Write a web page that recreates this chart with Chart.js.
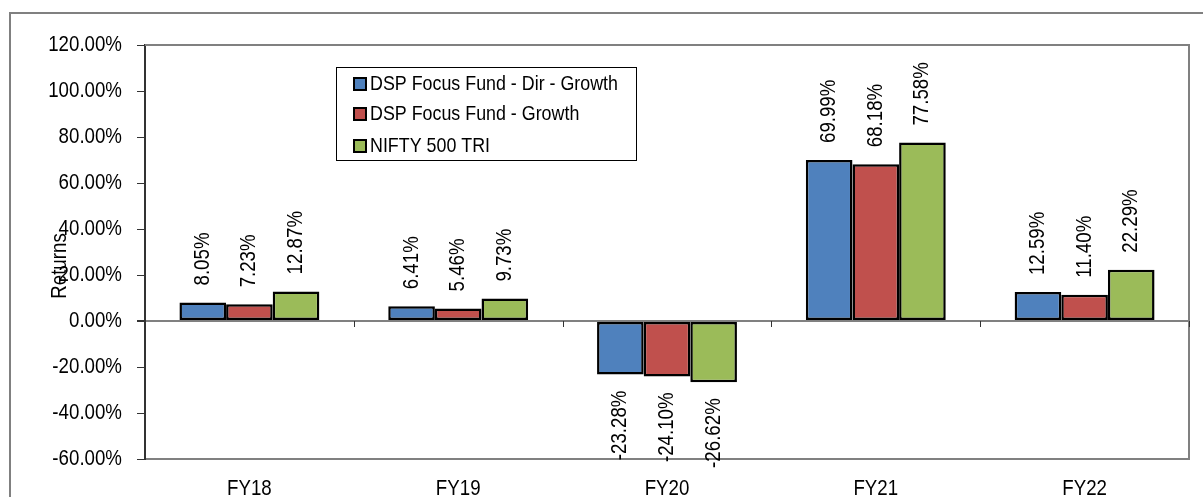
<!DOCTYPE html>
<html>
<head>
<meta charset="utf-8">
<script src="https://cdn.jsdelivr.net/npm/chart.js@4/dist/chart.umd.min.js"></script>
<style>
  body { margin: 0; background: #fff; }
  canvas { display: block; }
</style>
</head>
<body>
<canvas id="myChart" width="1203" height="497"></canvas>
<script>
const categories = ['FY18', 'FY19', 'FY20', 'FY21', 'FY22'];
const seriesNames = ['DSP Focus Fund - Dir - Growth', 'DSP Focus Fund - Growth', 'NIFTY 500 TRI'];
const dirGrowth = [8.05, 6.41, -23.28, 69.99, 12.59];
const regGrowth = [7.23, 5.46, -24.10, 68.18, 11.40];
const nifty500 = [12.87, 9.73, -26.62, 77.58, 22.29];
const yTicks = [-60, -40, -20, 0, 20, 40, 60, 80, 100, 120];

const FONT = "'Liberation Sans', Arial, sans-serif";
const colors = ['#4F81BD', '#C0504D', '#9BBB59'];

// narrow-looking text: glyphs squeezed along the text direction
function narrowText(ctx, txt, x, y, rot, align, size) {
    ctx.save();
    ctx.translate(x, y);
    ctx.rotate(rot);
    ctx.scale(0.85, 1);
    ctx.font = (size || 22) + 'px ' + FONT;
    ctx.textAlign = align;
    ctx.textBaseline = 'middle';
    ctx.fillText(txt, 0, 0);
    ctx.restore();
}

// frame, top/right border, zero-line ticks, tick labels, title, legend
const extras = {
    id: 'extras',
    beforeDraw(chart) {
        const ctx = chart.ctx;
        ctx.save();
        ctx.strokeStyle = '#808080';
        ctx.lineWidth = 2;
        ctx.strokeRect(10, 13, 1203, 497);
        ctx.restore();
    },
    afterDraw(chart) {
        const ctx = chart.ctx;
        const a = chart.chartArea;
        const x = chart.scales.x;
        const y = chart.scales.y;
        ctx.save();
        ctx.strokeStyle = '#808080';
        ctx.lineWidth = 2;
        ctx.beginPath();
        ctx.moveTo(a.left, a.top);
        ctx.lineTo(a.right, a.top);
        ctx.lineTo(a.right, a.bottom);
        ctx.stroke();

        // category separators on the zero line
        const y0 = y.getPixelForValue(0);
        ctx.strokeStyle = '#333';
        ctx.lineWidth = 1;
        for (let k = 1; k <= categories.length; k++) {
            let px;
            if (k < categories.length) {
                px = (x.getPixelForTick(k - 1) + x.getPixelForTick(k)) / 2;
            } else {
                px = a.right;
            }
            ctx.beginPath();
            ctx.moveTo(Math.round(px) + 0.5, y0);
            ctx.lineTo(Math.round(px) + 0.5, y0 + 6);
            ctx.stroke();
        }

        // tick labels
        ctx.fillStyle = '#000';
        y.ticks.forEach(function (t) {
            narrowText(ctx, t.value.toFixed(2) + '%', a.left - 23, y.getPixelForValue(t.value), 0, 'right');
        });
        x.ticks.forEach(function (t, i) {
            narrowText(ctx, categories[i], x.getPixelForTick(i), a.bottom + 30, 0, 'center');
        });

        narrowText(ctx, 'Returns', 60, 266, -Math.PI / 2, 'center');
        ctx.restore();

        // legend box
        ctx.save();
        ctx.strokeStyle = '#000';
        ctx.lineWidth = 1;
        ctx.strokeRect(336.5, 67.5, 300, 93);
        const rows = [84, 114, 146];
        chart.data.datasets.forEach(function (ds, i) {
            ctx.fillStyle = ds.backgroundColor;
            ctx.fillRect(354, rows[i] - 6, 12, 12);
            ctx.strokeStyle = '#000';
            ctx.lineWidth = 2;
            ctx.strokeRect(354, rows[i] - 6, 12, 12);
            ctx.fillStyle = '#000';
            narrowText(ctx, ds.label, 370, rows[i], 0, 'left', 21);
        });
        ctx.restore();
    },
    afterDatasetsDraw(chart) {
        const ctx = chart.ctx;
        ctx.save();
        ctx.fillStyle = '#000';
        chart.data.datasets.forEach(function (ds, i) {
            chart.getDatasetMeta(i).data.forEach(function (bar, j) {
                const v = ds.data[j];
                const txt = v.toFixed(2) + '%';
                if (v >= 0) {
                    narrowText(ctx, txt, bar.x, bar.y - 17, -Math.PI / 2, 'left');
                } else {
                    narrowText(ctx, txt, bar.x, bar.y + 16, -Math.PI / 2, 'right');
                }
            });
        });
        ctx.restore();
    }
};

const ctx = document.getElementById('myChart').getContext('2d');
const myChart = new Chart(ctx, {
    type: 'bar',
    data: {
        labels: categories,
        datasets: [
            { label: seriesNames[0], data: dirGrowth, backgroundColor: colors[0] },
            { label: seriesNames[1], data: regGrowth, backgroundColor: colors[1] },
            { label: seriesNames[2], data: nifty500, backgroundColor: colors[2] }
        ].map(function (d) {
            d.borderColor = '#000';
            d.borderWidth = 2.5;
            d.borderSkipped = false;
            d.categoryPercentage = 0.67;
            d.barPercentage = 1.0;
            return d;
        })
    },
    plugins: [extras],
    options: {
        responsive: false,
        animation: false,
        devicePixelRatio: 1,
        layout: { padding: { top: 45, right: 14, left: 0, bottom: 0 } },
        plugins: {
            legend: { display: false },
            tooltip: { enabled: false }
        },
        scales: {
            x: {
                grid: { display: false, drawTicks: false },
                border: { display: true, color: '#808080', width: 2 },
                ticks: { display: false },
                afterFit(scale) { scale.height = 38; }
            },
            y: {
                min: -60,
                max: 120,
                afterBuildTicks(scale) {
                    scale.ticks = yTicks.map(function (v) { return { value: v }; });
                },
                grid: {
                    color(c) { return c.tick && c.tick.value === 0 ? '#808080' : 'rgba(0,0,0,0)'; },
                    lineWidth(c) { return c.tick && c.tick.value === 0 ? 2 : 1; },
                    tickColor: '#333',
                    tickLength: 8
                },
                border: { display: true, color: '#333', width: 2 },
                ticks: { display: false },
                afterFit(scale) { scale.width = 145; }
            }
        }
    }
});
</script>
</body>
</html>
